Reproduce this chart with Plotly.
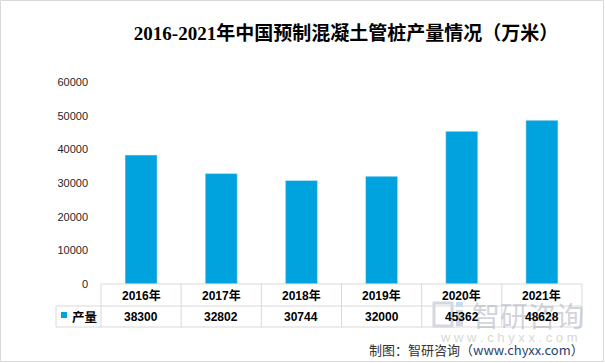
import plotly.graph_objects as go

years = ["2016年", "2017年", "2018年", "2019年", "2020年", "2021年"]
values = [38300, 32802, 30744, 32000, 45362, 48628]
series_name = "产量"
y_ticks = [0, 10000, 20000, 30000, 40000, 50000, 60000]
title_text = "2016-2021年中国预制混凝土管桩产量情况（万米）"
source_text = "制图：智研咨询（<span style='color:#1f3f73'>www.chyxx.com</span>）"

W, H = 605, 363
L, R, T, B = 101, 582, 82, 284
PW, PH = R - L, B - T
BAR = "#00a3dd"
GRID = "#d9d9d9"


def px(x):
    return (x - L) / PW


def py(y):
    return (B - y) / PH


fig = go.Figure()
fig.add_trace(go.Bar(x=years, y=values, marker_color=BAR, width=0.4, name=series_name,
                     hoverinfo="skip"))

shapes = []
annotations = []

# watermark logo (approximation), drawn below everything else
shapes.append(dict(type="rect", xref="paper", yref="paper", x0=px(434), x1=px(452),
                   y0=py(326), y1=py(303), line=dict(color="#d3d8e0", width=3), layer="below"))
shapes.append(dict(type="rect", xref="paper", yref="paper", x0=px(456), x1=px(463),
                   y0=py(326), y1=py(310), fillcolor="#d3d8e0", line=dict(width=0), layer="below"))
shapes.append(dict(type="rect", xref="paper", yref="paper", x0=px(456), x1=px(463),
                   y0=py(307), y1=py(302), fillcolor="#c4dcef", line=dict(width=0), layer="below"))

# table lines
n = len(years)
for k in range(n + 1):
    xp = k / n
    shapes.append(dict(type="line", xref="paper", yref="paper", x0=xp, x1=xp,
                       y0=py(284), y1=py(327), line=dict(color=GRID, width=1)))
shapes.append(dict(type="line", xref="paper", yref="paper", x0=px(56), x1=px(56),
                   y0=py(306), y1=py(327), line=dict(color=GRID, width=1)))
for yy, x0 in [(284, L), (306, 56), (327, 56)]:
    shapes.append(dict(type="line", xref="paper", yref="paper", x0=px(x0), x1=1,
                       y0=py(yy), y1=py(yy), line=dict(color=GRID, width=1)))
# legend key square
shapes.append(dict(type="rect", xref="paper", yref="paper", x0=px(61), x1=px(67),
                   y0=py(318), y1=py(312), fillcolor=BAR, line=dict(width=0)))
# outer border
shapes.append(dict(type="rect", xref="paper", yref="paper", x0=px(0.5), x1=px(W - 1.5),
                   y0=py(H - 1.5), y1=py(0.5), line=dict(color="#d9d9d9", width=1)))

# watermark text first so table values sit on top
annotations.append(dict(xref="paper", yref="paper", x=px(528), y=py(315), text="智研咨询",
                        showarrow=False, font=dict(family="Noto Sans CJK SC", size=28,
                                                   color="rgba(170,176,188,0.55)"),
                        xanchor="center", yanchor="middle"))
annotations.append(dict(xref="paper", yref="paper", x=px(509), y=py(337),
                        text="w w w . c h y x x . c o m",
                        showarrow=False, font=dict(family="Liberation Sans", size=13,
                                                   color="rgba(180,180,180,0.55)"),
                        xanchor="center", yanchor="middle"))

tfont = dict(family="Liberation Sans, Noto Sans CJK SC", size=12, color="#000000", weight="bold")
for i, (yr, v) in enumerate(zip(years, values)):
    xc = (i + 0.5) / n
    annotations.append(dict(xref="paper", yref="paper", x=xc, y=py(295), text=yr,
                            showarrow=False, font=tfont, xanchor="center", yanchor="middle"))
    annotations.append(dict(xref="paper", yref="paper", x=xc, y=py(316.5), text=str(v),
                            showarrow=False, font=tfont, xanchor="center", yanchor="middle"))
annotations.append(dict(xref="paper", yref="paper", x=px(70), y=py(316), text=series_name,
                        showarrow=False, font=dict(family="Noto Sans CJK SC", size=12.5,
                                                   color="#000000", weight="bold"),
                        xanchor="left", yanchor="middle"))
# source
annotations.append(dict(xref="paper", yref="paper", x=px(586), y=py(349), text=source_text,
                        showarrow=False, font=dict(family="Noto Sans CJK SC", size=13,
                                                   color="#333333"),
                        xanchor="right", yanchor="middle"))

fig.update_layout(
    width=W, height=H,
    margin=dict(l=L, r=W - R, t=T, b=H - B, pad=0),
    paper_bgcolor="white", plot_bgcolor="white",
    showlegend=False,
    bargap=0.6,
    title=dict(text=title_text, x=346 / W, xref="container", xanchor="center",
               y=1 - 33 / H, yref="container", yanchor="middle",
               font=dict(family="Liberation Serif, Noto Sans CJK SC", size=19,
                         color="#000000", weight="bold")),
    xaxis=dict(showticklabels=False, showgrid=False, zeroline=False, showline=False,
               ticks="", range=[-0.5, n - 0.5]),
    yaxis=dict(range=[0, 60000], tickvals=y_ticks, ticktext=[str(t) for t in y_ticks],
               showgrid=False, zeroline=False, showline=False, ticks="",
               ticklabelstandoff=12,
               tickfont=dict(family="Liberation Sans", size=11, color="#262626")),
    shapes=shapes,
    annotations=annotations,
)

fig.write_html("out.html", config={"displayModeBar": False},
               post_script="document.body.style.margin='0';document.body.style.overflow='hidden';")
